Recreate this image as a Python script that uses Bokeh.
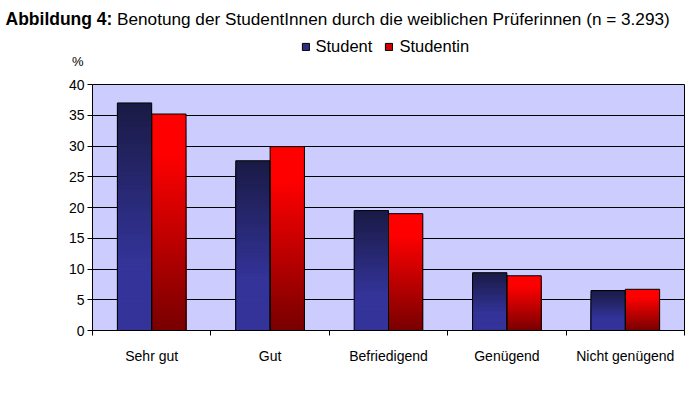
from bokeh.plotting import figure
from bokeh.layouts import column, row
from bokeh.models import Range1d, FixedTicker, Label, Legend, LegendItem, ColumnDataSource
from bokeh.embed import file_html
from bokeh.resources import INLINE

# ---- data ----
categories = ["Sehr gut", "Gut", "Befriedigend", "Genügend", "Nicht genügend"]
student = [37.0, 27.6, 19.5, 9.4, 6.5]
studentin = [35.2, 29.9, 19.0, 8.9, 6.7]
series_names = ["Student", "Studentin"]
y_ticks = [0, 5, 10, 15, 20, 25, 30, 35, 40]
title_bold = "Abbildung 4:"
title_rest = "Benotung der StudentInnen durch die weiblichen Prüferinnen (n = 3.293)"

FONT = "Liberation Sans"
BAR_W = 0.29
N_SLICES = 50
TOP_H = 74


def lerp(c1, c2, t):
    return "#%02x%02x%02x" % tuple(int(round(a + (b - a) * t)) for a, b in zip(c1, c2))


def blue_grad(f):  # f = 0 at bottom, 1 at top
    if f < 0.3:
        return "#333399"
    return lerp((0x33, 0x33, 0x99), (0x1a, 0x1a, 0x45), (f - 0.3) / 0.7)


def red_grad(f):
    if f > 0.82:
        return "#ff0000"
    return lerp((0x78, 0x00, 0x00), (0xff, 0x00, 0x00), f / 0.82)


# ---------- header figure (title, legend, % label) ----------
h = figure(width=700, height=TOP_H, output_backend="svg", toolbar_location=None,
           x_range=Range1d(0, 700), y_range=Range1d(0, TOP_H),
           x_axis_location=None, y_axis_location=None,
           min_border_left=0, min_border_right=0, min_border_top=0, min_border_bottom=0)
h.grid.visible = False
h.outline_line_color = None
h.background_fill_color = "white"
h.border_fill_color = "white"
h.add_layout(Label(x=5, y=TOP_H - 18.5, x_units="screen", y_units="screen", text=title_bold,
                   text_font=FONT, text_font_style="bold", text_font_size="17.5px",
                   text_baseline="alphabetic", text_color="black"))
h.add_layout(Label(x=116.5, y=TOP_H - 18.5, x_units="screen", y_units="screen", text=title_rest,
                   text_font=FONT, text_font_size="17.2px",
                   text_baseline="alphabetic", text_color="black"))
h.add_layout(Label(x=71.5, y=TOP_H - 61, x_units="screen", y_units="screen", text="%",
                   text_font=FONT, text_font_size="13px",
                   text_baseline="middle", text_color="black"))

# legend swatch renderers (zero-size, off-view; only used for the legend key)
sw_student = h.quad(left=[-10], right=[-10], bottom=[-10], top=[-10],
                    fill_color="#2d2d80", line_color="black")
sw_studentin = h.quad(left=[-10], right=[-10], bottom=[-10], top=[-10],
                      fill_color="#cc0000", line_color="black")
legend = Legend(items=[LegendItem(label=series_names[0], renderers=[sw_student]),
                       LegendItem(label=series_names[1], renderers=[sw_studentin])],
                location=(300.5, TOP_H - 46.5 - 10), orientation="horizontal",
                glyph_width=9, glyph_height=9, label_standoff=6, spacing=12,
                padding=0, margin=0, border_line_alpha=0, background_fill_alpha=0,
                label_text_font=FONT, label_text_font_size="16.5px", label_text_color="black",
                label_height=20)
h.add_layout(legend, "center")

# ---------- chart figure ----------
p = figure(width=700, height=400 - TOP_H, output_backend="svg", toolbar_location=None,
           x_range=Range1d(0, len(categories)), y_range=Range1d(0, 40),
           min_border_left=92, min_border_right=16, min_border_top=84 - TOP_H, min_border_bottom=70)

p.background_fill_color = "#CCCCFF"
p.border_fill_color = "white"
p.outline_line_color = "black"
p.outline_line_width = 1

outl = dict(left=[], right=[], top=[])
for s, (vals, grad) in enumerate([(student, blue_grad), (studentin, red_grad)]):
    sl = dict(left=[], right=[], top=[], color=[])
    for i, v in enumerate(vals):
        left = i + 0.5 - BAR_W + s * BAR_W
        right = left + BAR_W
        for k in range(N_SLICES - 1, -1, -1):
            sl["left"].append(left)
            sl["right"].append(right)
            sl["top"].append(v * (k + 1) / N_SLICES)
            sl["color"].append(grad((k + 0.5) / N_SLICES))
        outl["left"].append(left)
        outl["right"].append(right)
        outl["top"].append(v)
    p.quad(left="left", right="right", bottom=0, top="top", fill_color="color",
           line_color=None, source=ColumnDataSource(sl))

p.quad(left="left", right="right", bottom=0, top="top", fill_alpha=0,
       line_color="black", line_width=1, source=ColumnDataSource(outl))

p.yaxis.ticker = FixedTicker(ticks=y_ticks)
p.yaxis.major_tick_out = 5
p.yaxis.major_tick_in = 0
p.yaxis.minor_tick_out = 0
p.yaxis.axis_line_color = "black"
p.yaxis.major_tick_line_color = "black"
p.yaxis.major_label_text_font = FONT
p.yaxis.major_label_text_font_size = "14px"
p.yaxis.major_label_text_color = "black"
p.yaxis.major_label_standoff = 3

centers = [i + 0.5 for i in range(len(categories))]
bounds = [float(i) for i in range(len(categories) + 1)]
p.xaxis.ticker = FixedTicker(ticks=centers, minor_ticks=bounds)
p.xaxis.major_label_overrides = {c: lab for c, lab in zip(centers, categories)}
p.xaxis.major_tick_out = 0
p.xaxis.major_tick_in = 0
p.xaxis.minor_tick_out = 5
p.xaxis.minor_tick_in = 0
p.xaxis.minor_tick_line_color = "black"
p.xaxis.axis_line_color = "black"
p.xaxis.major_label_text_font = FONT
p.xaxis.major_label_text_font_size = "14px"
p.xaxis.major_label_text_color = "black"
p.xaxis.major_label_standoff = 12

p.ygrid.ticker = FixedTicker(ticks=y_ticks)
p.ygrid.grid_line_color = "black"
p.ygrid.grid_line_width = 1
p.xgrid.visible = False

layout = column(row(h), p, spacing=0)
open("out.html", "w").write(file_html(layout, INLINE))
